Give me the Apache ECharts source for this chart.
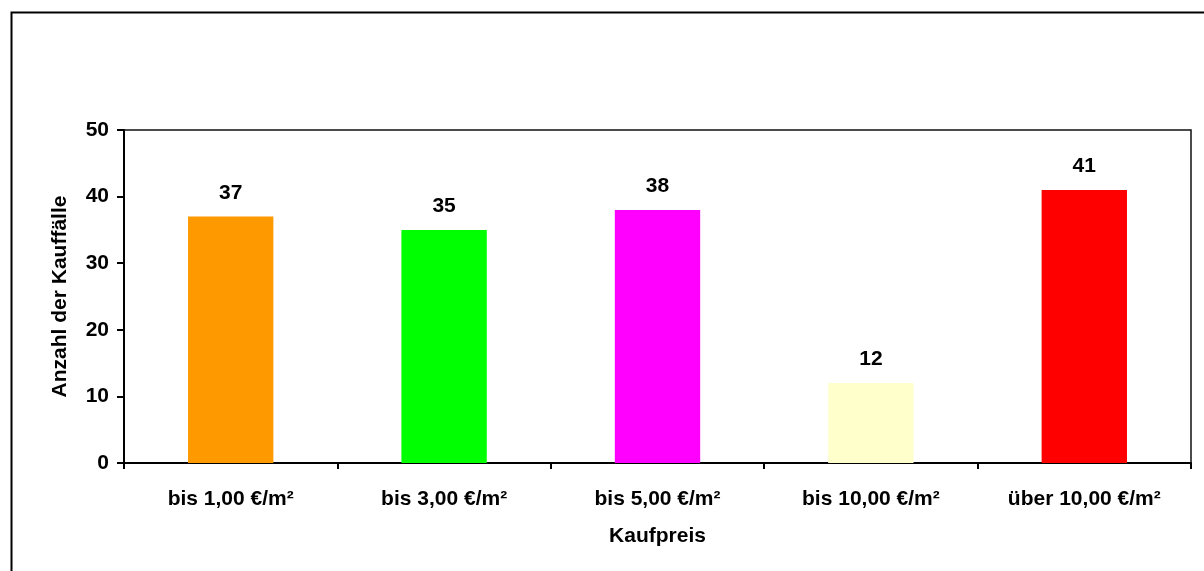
<!DOCTYPE html>
<html><head><meta charset="utf-8">
<script src="https://cdn.jsdelivr.net/npm/echarts@6/dist/echarts.min.js"></script>
<style>html,body{margin:0;padding:0;background:#fff}#c{width:1204px;height:571px}</style>
</head><body><div id="c"></div>
<script>
const categories = ['bis 1,00 €/m²', 'bis 3,00 €/m²', 'bis 5,00 €/m²', 'bis 10,00 €/m²', 'über 10,00 €/m²'];
const values = [37, 35, 38, 12, 41];
const colors = ['#FF9900', '#00FF00', '#FF00FF', '#FFFFCC', '#FF0000'];
const yTicks = { min: 0, max: 50, interval: 10 };
const xTitle = 'Kaufpreis';
const yTitle = 'Anzahl der Kauffälle';

const font = '"Liberation Sans", Arial, sans-serif';
const fs = 21;
const chart = echarts.init(document.getElementById('c'), null, { renderer: 'canvas' });
chart.setOption({
  animation: false,
  backgroundColor: '#fff',
  graphic: [{
    type: 'rect', left: 9, top: 10,
    shape: { x: 0, y: 0, width: 1300, height: 700 },
    style: { fill: 'none', stroke: '#000', lineWidth: 2 }, silent: true
  }],
  grid: { left: 124, right: 13, top: 130, bottom: 108, show: true, borderColor: '#111', borderWidth: 1.5, backgroundColor: 'transparent' },
  xAxis: {
    type: 'category', data: categories,
    name: xTitle, nameLocation: 'middle', nameGap: 63,
    nameTextStyle: { fontFamily: font, fontWeight: 'bold', fontSize: fs, color: '#000' },
    axisLine: { lineStyle: { color: '#000', width: 2 } },
    axisTick: { show: true, length: 6, lineStyle: { color: '#000', width: 2 } },
    axisLabel: { margin: 26, fontFamily: font, fontWeight: 'bold', fontSize: fs, color: '#000' },
    splitLine: { show: false }
  },
  yAxis: {
    type: 'value', min: yTicks.min, max: yTicks.max, interval: yTicks.interval,
    name: yTitle, nameLocation: 'middle', nameGap: 53, nameRotate: 90,
    nameTextStyle: { fontFamily: font, fontWeight: 'bold', fontSize: fs, color: '#000' },
    axisLine: { show: true, lineStyle: { color: '#000', width: 2 } },
    axisTick: { show: true, length: 7, lineStyle: { color: '#000', width: 2 } },
    axisLabel: { margin: 15, fontFamily: font, fontWeight: 'bold', fontSize: fs, color: '#000' },
    splitLine: { show: false }
  },
  series: [{
    type: 'bar', barWidth: '40%',
    data: values.map((v, i) => ({ value: v, itemStyle: { color: colors[i] } })),
    label: { show: true, position: 'top', distance: 13, fontFamily: font, fontWeight: 'bold', fontSize: fs, color: '#000' }
  }]
});
</script></body></html>
